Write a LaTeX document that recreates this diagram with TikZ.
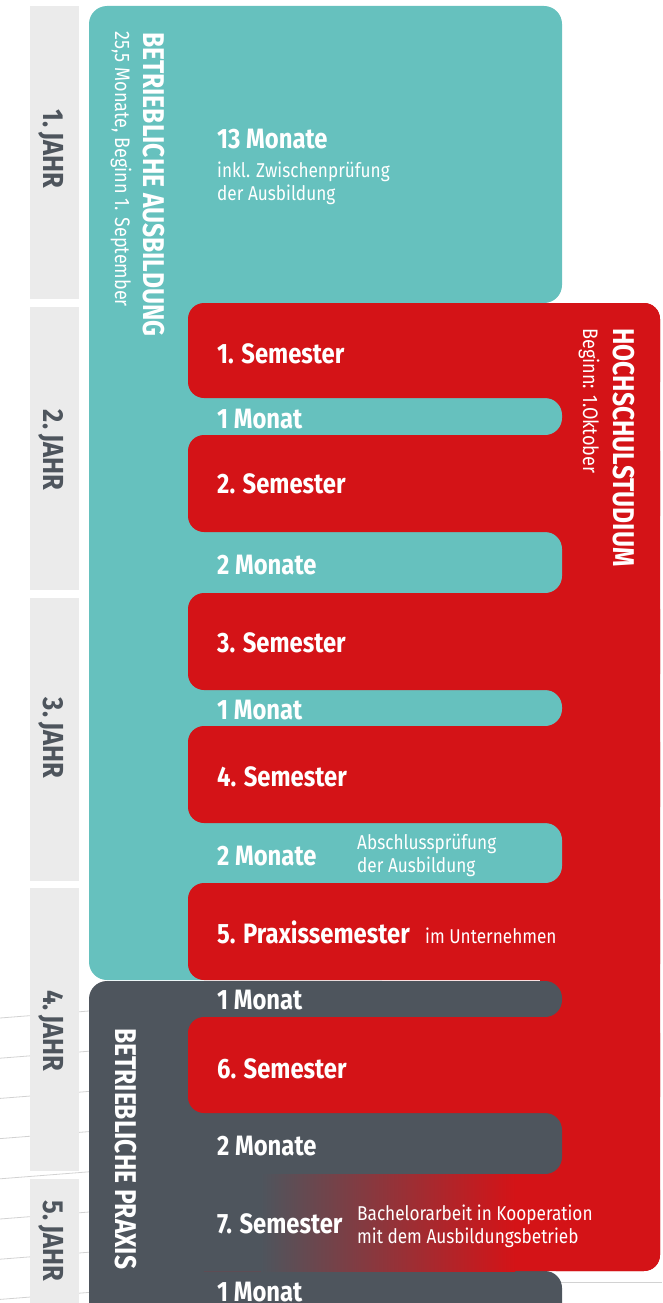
\documentclass[tikz,border=0pt]{standalone}
\usepackage{fontspec}
\setmainfont{Fira Sans}[FakeStretch=0.82]
\newfontfamily\bigf{Fira Sans}[FakeStretch=0.85]
\newfontfamily\smallf{Fira Sans}[FakeStretch=0.86]
\newfontfamily\yearf{Fira Sans}[FakeStretch=0.88]
\definecolor{tealc}{HTML}{66C1BE}
\definecolor{redc}{HTML}{D41317}
\definecolor{darkc}{HTML}{4E555D}
\definecolor{yearbg}{HTML}{EBEBEB}
\definecolor{bgline}{HTML}{D2D2D2}
\tikzset{
  big/.style={font=\bigf\fontsize{28}{30}\selectfont\bfseries, text=white, inner sep=0pt, anchor=base west},
  small/.style={font=\smallf\fontsize{20}{22.5}\selectfont, text=white, inner sep=0pt, anchor=base west, align=left},
  vtitle/.style={font=\fontsize{30}{32}\selectfont\bfseries, text=white, inner sep=0pt, anchor=base west, rotate=-90},
  vsub/.style={font=\smallf\fontsize{21}{22}\selectfont, text=white, inner sep=0pt, anchor=base west, rotate=-90},
  yeartext/.style={font=\yearf\fontsize{29}{30}\selectfont\bfseries, text=darkc, inner sep=0pt, anchor=base, rotate=-90},
  faint/.style={draw=bgline, line width=0.8pt}
}
\begin{document}
\begin{tikzpicture}[x=1pt,y=-1pt]
\useasboundingbox (0,0) rectangle (662,1303);
% faint background lines
\foreach \k in {0,...,7}{
  \draw[faint] (0,1018+40.2*\k) -- (89,1011+40.2*\k);
}
\draw[faint] (540,1282) -- (662,1282);
% year columns
\fill[yearbg] (30,6) rectangle (79,299);
\fill[yearbg] (30,307) rectangle (79,590);
\fill[yearbg] (30,598) rectangle (79,881);
\fill[yearbg] (30,888) rectangle (79,1171);
\fill[yearbg] (30,1179) rectangle (79,1310);
\node[yeartext] (j1) at (43,149) {1.\,JAHR};
\node[yeartext] (j2) at (43,450) {2.\,JAHR};
\node[yeartext] (j3) at (43,738) {3.\,JAHR};
\node[yeartext] (j4) at (43,1031) {4.\,JAHR};
\node[yeartext] (j5) at (43,1241) {5.\,JAHR};
% teal panel (Betriebliche Ausbildung)
\fill[tealc, rounded corners=18] (89,6) rectangle (562,303);
\fill[tealc, rounded corners=18] (89,250) rectangle (400,980);
% dark panel (Betriebliche Praxis)
\fill[darkc, rounded corners=18] (89,981) rectangle (400,1340);
% red column (Hochschulstudium)
\fill[redc, rounded corners=16] (540,303) rectangle (660,1271);
% teal strips
\fill[tealc, rounded corners=17] (150,398) rectangle (562,435);
\fill[tealc, rounded corners=17] (150,532) rectangle (562,593);
\fill[tealc, rounded corners=17] (150,690) rectangle (562,726);
\fill[tealc, rounded corners=17] (150,823) rectangle (562,883);
% dark strips
\fill[darkc, rounded corners=17] (150,981) rectangle (562,1017);
\fill[darkc, rounded corners=17] (150,1113) rectangle (562,1174);
\fill[darkc, rounded corners=17] (150,1271) rectangle (562,1340);
% semester blocks
\fill[redc, rounded corners=16] (188,303) rectangle (660,398);
\fill[redc, rounded corners=16] (188,435) rectangle (660,532);
\fill[redc, rounded corners=16] (188,593) rectangle (660,690);
\fill[redc, rounded corners=16] (188,726) rectangle (660,823);
\fill[redc, rounded corners=16] (188,883) rectangle (660,980);
\fill[redc, rounded corners=16] (188,1017) rectangle (660,1113);
\fill[redc, rounded corners=16] (188,1174) rectangle (660,1271);
\fill[darkc] (186,1174) rectangle (262,1271);
\shade[left color=darkc, right color=redc] (261,1174) rectangle (515,1271);
% vertical titles
\node[vtitle] (ta) at (143,32) {BETRIEBLICHE AUSBILDUNG};
\node[vsub] (tas) at (115,31) {25,5 Monate, Beginn 1. September};
\node[vtitle] (th) at (613,328) {HOCHSCHULSTUDIUM};
\node[vsub] (ths) at (583,328) {Beginn: 1.Oktober};
\node[vtitle] (tp) at (115,1028) {BETRIEBLICHE PRAXIS};
% block texts
\node[big] (m13) at (217,148) {13 Monate};
\node[small] (m13s) at (217,200) {inkl. Zwischenprüfung\\der Ausbildung};
\node[big] (s1) at (217,363) {1. Semester};
\node[big] (a1) at (217,428) {1 Monat};
\node[big] (s2) at (217,493) {2. Semester};
\node[big] (a2) at (217,574) {2 Monate};
\node[big] (s3) at (217,652) {3. Semester};
\node[big] (a3) at (217,719) {1 Monat};
\node[big] (s4) at (217,786) {4. Semester};
\node[big] (a4) at (217,865) {2 Monate};
\node[small] (a4s) at (357,872) {Abschlussprüfung\\der Ausbildung};
\node[big] (s5) at (217,943) {5. Praxissemester};
\node[small] (s5s) at (425,943) {im Unternehmen};
\node[big] (a5) at (217,1009) {1 Monat};
\node[big] (s6) at (217,1078) {6. Semester};
\node[big] (a6) at (217,1155) {2 Monate};
\node[big] (s7) at (217,1233) {7. Semester};
\node[small] (s7s) at (357,1243) {Bachelorarbeit in Kooperation\\mit dem Ausbildungsbetrieb};
\node[big] (a7) at (217,1301) {1 Monat};
\end{tikzpicture}
\end{document}
